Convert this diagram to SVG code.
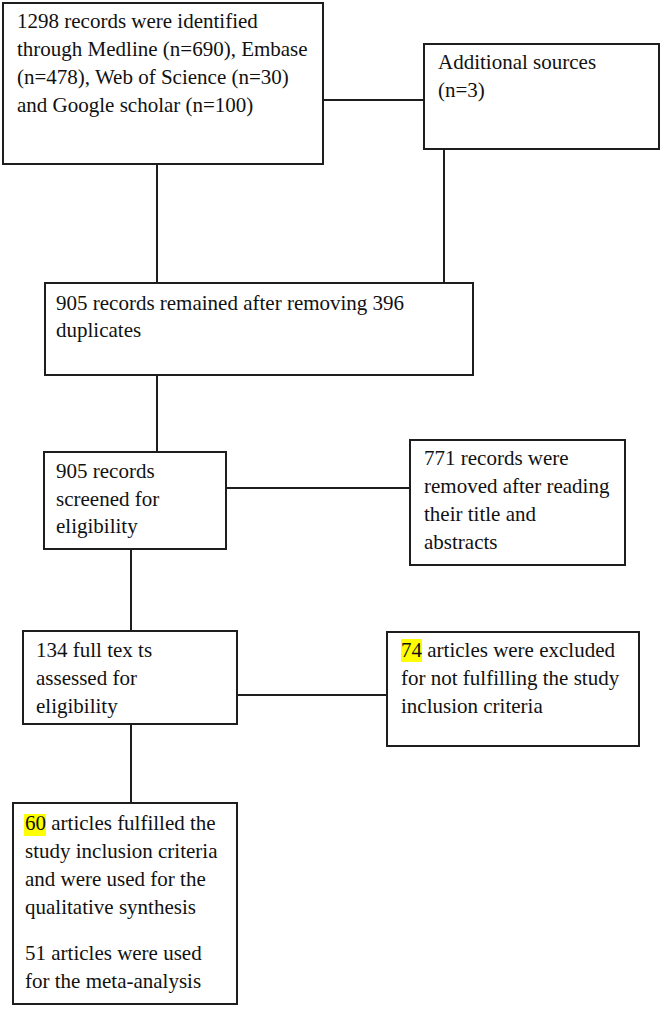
<svg xmlns="http://www.w3.org/2000/svg" width="661" height="1009" viewBox="0 0 661 1009">
<style>
.box{fill:#fff;stroke:#1e1e1e;stroke-width:2}
.lnk{stroke:#1e1e1e;stroke-width:2;fill:none}
.t{font-family:"Liberation Serif","Times New Roman",serif;font-size:21px;fill:#111}
.hl{fill:#ffff00}
</style>
<rect width="661" height="1009" fill="#fff"/>
<g id="connectors">
<line class="lnk" x1="323" y1="100" x2="424" y2="100"/>
<line class="lnk" x1="157" y1="164" x2="157" y2="283"/>
<line class="lnk" x1="444" y1="149" x2="444" y2="283"/>
<line class="lnk" x1="157" y1="375" x2="157" y2="452"/>
<line class="lnk" x1="226" y1="488" x2="410" y2="488"/>
<line class="lnk" x1="131" y1="549" x2="131" y2="631"/>
<line class="lnk" x1="237" y1="695" x2="387" y2="695"/>
<line class="lnk" x1="131" y1="724" x2="131" y2="803"/>
</g>
<g id="n1">
<rect class="box" x="3" y="3" width="320" height="161"/>
<text class="t"><tspan x="17" y="28">1298 records were identified</tspan><tspan x="17" y="56">through Medline (n=690), Embase</tspan><tspan x="17" y="84">(n=478), Web of Science (n=30)</tspan><tspan x="17" y="112">and Google scholar (n=100)</tspan></text>
</g>
<g id="n2">
<rect class="box" x="424" y="44" width="235" height="105"/>
<text class="t"><tspan x="438" y="69">Additional sources</tspan><tspan x="438" y="97">(n=3)</tspan></text>
</g>
<g id="n3">
<rect class="box" x="45" y="283" width="428" height="92"/>
<text class="t"><tspan x="56" y="310">905 records remained after removing 396</tspan><tspan x="56" y="337">duplicates</tspan></text>
</g>
<g id="n4">
<rect class="box" x="44" y="452" width="182" height="97"/>
<text class="t"><tspan x="56" y="478">905 records</tspan><tspan x="56" y="506">screened for</tspan><tspan x="56" y="533">eligibility</tspan></text>
</g>
<g id="n5">
<rect class="box" x="410" y="440" width="215" height="125"/>
<text class="t"><tspan x="424" y="465">771 records were</tspan><tspan x="424" y="493">removed after reading</tspan><tspan x="424" y="521">their title and</tspan><tspan x="424" y="549">abstracts</tspan></text>
</g>
<g id="n6">
<rect class="box" x="23" y="631" width="214" height="93"/>
<text class="t"><tspan x="36" y="657">134 full tex ts</tspan><tspan x="36" y="685">assessed for</tspan><tspan x="36" y="713">eligibility</tspan></text>
</g>
<g id="n7">
<rect class="box" x="387" y="632" width="252" height="114"/>
<rect class="hl" x="401" y="639" width="21" height="23"/>
<text class="t"><tspan x="401" y="657">74 articles were excluded</tspan><tspan x="401" y="685">for not fulfilling the study</tspan><tspan x="401" y="713">inclusion criteria</tspan></text>
</g>
<g id="n8">
<rect class="box" x="13" y="803" width="224" height="201"/>
<rect class="hl" x="24" y="814" width="22" height="22"/>
<text class="t"><tspan x="25" y="830">60 articles fulfilled the</tspan><tspan x="25" y="858">study inclusion criteria</tspan><tspan x="25" y="886">and were used for the</tspan><tspan x="25" y="914">qualitative synthesis</tspan><tspan x="25" y="960">51 articles were used</tspan><tspan x="25" y="988">for the meta-analysis</tspan></text>
</g>
</svg>
